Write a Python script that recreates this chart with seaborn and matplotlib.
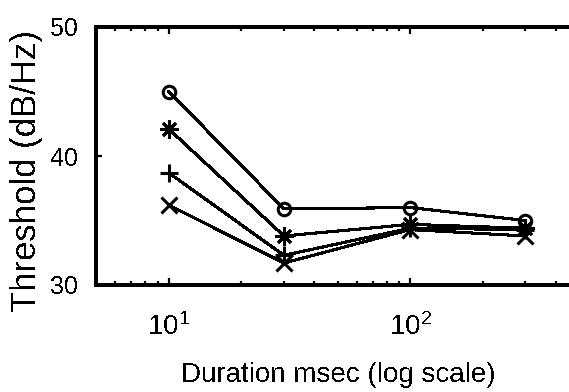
import matplotlib
matplotlib.use("Agg")
import matplotlib.pyplot as plt
import seaborn as sns
import pandas as pd
from matplotlib.ticker import LogLocator, NullFormatter, FixedLocator

# Signal durations (ms) and detection thresholds for four conditions
durations = [10, 30, 100, 300]
thr_circle = [45.0, 35.9, 36.0, 35.0]
thr_star = [42.1, 33.8, 34.7, 34.4]
thr_plus = [38.7, 32.3, 34.4, 34.3]
thr_cross = [36.2, 31.7, 34.3, 33.8]

series_names = ["o", "*", "+", "x"]
series_values = [thr_circle, thr_star, thr_plus, thr_cross]

sns.set_style("white")
plt.rcParams["font.family"] = ["Liberation Sans", "DejaVu Sans"]
plt.rcParams["mathtext.fontset"] = "custom"
plt.rcParams["mathtext.rm"] = "Liberation Sans"
plt.rcParams["mathtext.it"] = "Liberation Sans"
plt.rcParams["text.antialiased"] = False
plt.rcParams["lines.antialiased"] = False
plt.rcParams["patch.antialiased"] = False
for key in ["text.color", "axes.labelcolor", "xtick.color", "ytick.color", "axes.edgecolor"]:
    plt.rcParams[key] = "black"

rows = []
for name, vals in zip(series_names, series_values):
    for d, v in zip(durations, vals):
        rows.append({"duration": d, "threshold": v, "cond": name})
df = pd.DataFrame(rows)

fig = plt.figure(figsize=(5.69, 3.92), dpi=100)
ax = fig.add_axes([96 / 569, 107 / 392, 483 / 569, 258 / 392])

marker_map = {"o": "o", "*": (8, 2, 0), "+": "+", "x": "x"}
size_map = {"o": 9, "*": 13, "+": 13, "x": 11}
for name in series_names:
    sub = df[df["cond"] == name]
    sns.lineplot(data=sub, x="duration", y="threshold", ax=ax, color="black",
                 marker=marker_map[name], markersize=size_map[name],
                 markerfacecolor="none", markeredgecolor="black",
                 markeredgewidth=2.2, linewidth=1.5, legend=False)

ax.set_xscale("log")
ax.set_xlim(5, 500)
ax.set_ylim(30, 50)
ax.yaxis.set_major_locator(FixedLocator([30, 40, 50]))
ax.xaxis.set_major_locator(LogLocator(base=10))
ax.xaxis.set_minor_locator(LogLocator(base=10, subs=range(2, 10)))
ax.xaxis.set_minor_formatter(NullFormatter())

for side in ["left", "bottom", "top"]:
    ax.spines[side].set_visible(True)
    ax.spines[side].set_color("black")
    ax.spines[side].set_linewidth(1.6)
ax.spines["right"].set_visible(False)

ax.tick_params(axis="both", which="both", direction="in", color="black",
               top=True, bottom=True, left=True, right=False)
ax.tick_params(axis="x", which="major", length=5, width=1.6, pad=20, labelsize=20)
ax.tick_params(axis="x", which="minor", length=3, width=1.6)
ax.tick_params(axis="y", which="major", length=4, width=1.6, pad=13, labelsize=18)

ax.set_xlabel("Duration msec (log scale)", fontsize=20)
ax.set_ylabel("Threshold (dB/Hz)", fontsize=25)
ax.xaxis.set_label_coords(0.501, -0.30)
ax.yaxis.set_label_coords(-0.11, 0.442)

fig.savefig("out.png", dpi=100)
